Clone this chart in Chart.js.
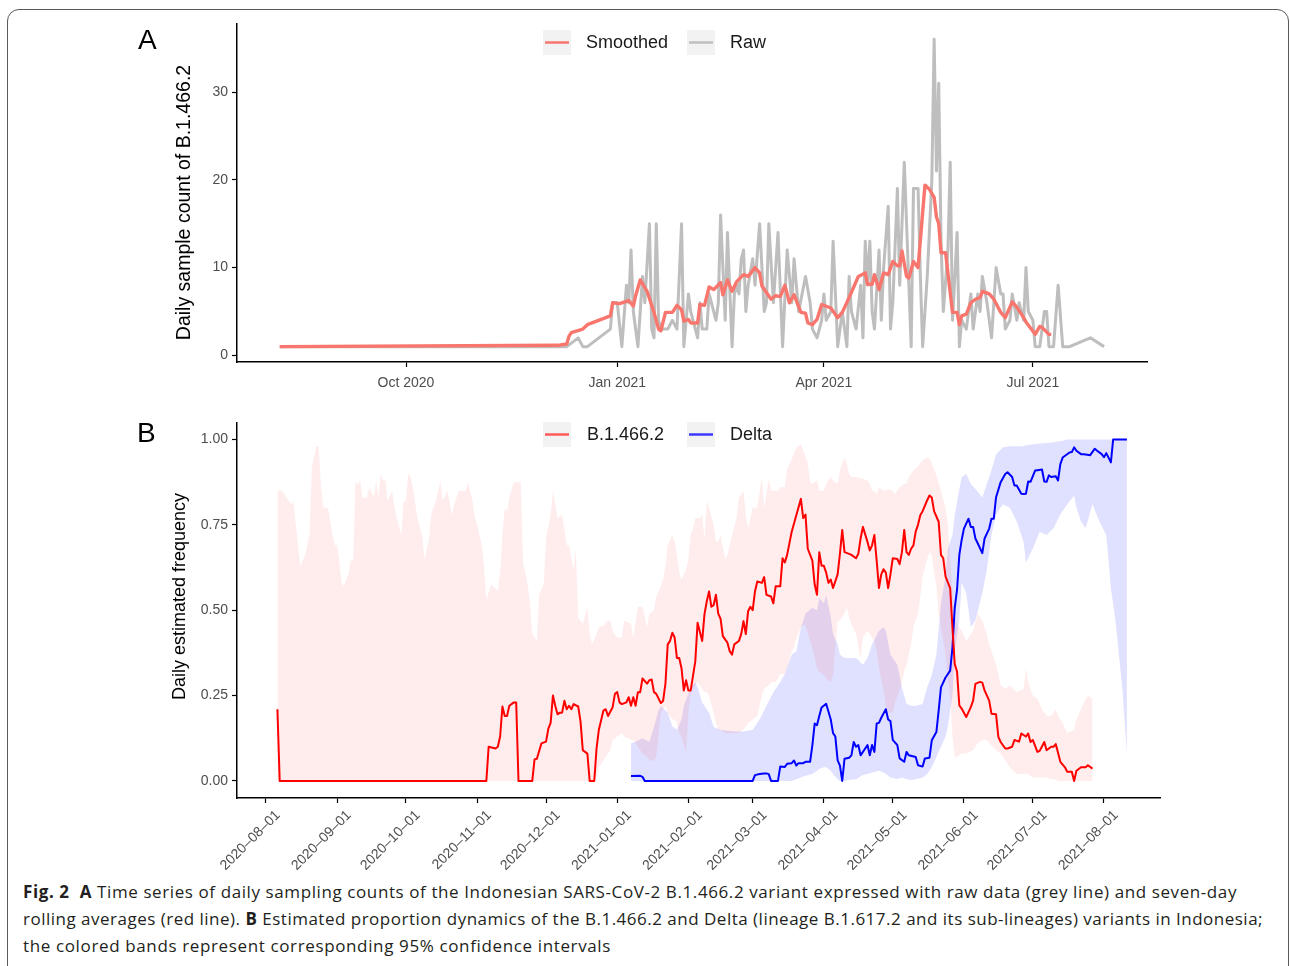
<!DOCTYPE html>
<html><head><meta charset="utf-8">
<script src="https://cdn.jsdelivr.net/npm/chart.js@4/dist/chart.umd.min.js"></script>
<style>
body{margin:0;width:1290px;height:966px;overflow:hidden;background:#fff;position:relative;font-family:"Liberation Sans",Arial,sans-serif;}
#frame{position:absolute;left:7px;top:9px;width:1282px;height:1000px;border:1px solid #58595b;border-radius:12px;box-sizing:border-box;}
canvas{position:absolute;left:0;}
#cA{top:0}
#cB{top:410px}
.panel{position:absolute;font-size:28px;color:#000;line-height:28px;}
.cap{position:absolute;left:23px;font-family:"Open Sans",sans-serif;font-size:17px;line-height:20px;color:#231f20;white-space:nowrap;}
</style></head><body>
<div id="frame"></div>
<canvas id="cA" width="1290" height="410" style="width:1290px;height:410px"></canvas>
<canvas id="cB" width="1290" height="470" style="width:1290px;height:470px"></canvas>
<div class="panel" style="left:138px;top:26px">A</div>
<div class="panel" style="left:137px;top:419px">B</div>
<div class="cap" data-w="1214" style="top:882px"><b>Fig. 2</b>&nbsp; <b>A</b> Time series of daily sampling counts of the Indonesian SARS-CoV-2 B.1.466.2 variant expressed with raw data (grey line) and seven-day</div>
<div class="cap" data-w="1240" style="top:909px">rolling averages (red line). <b>B</b> Estimated proportion dynamics of the B.1.466.2 and Delta (lineage B.1.617.2 and its sub-lineages) variants in Indonesia;</div>
<div class="cap" data-w="588" style="top:936px">the colored bands represent corresponding 95% confidence intervals</div>
<script>
// ---------- DATA (days since 2020-08-01) ----------
const rawDay = [6,126,131,136,138,140,150,151,153,155,157,158,159,160,162,164,165,167,168,169,170,171,172,175,177,179,181,182,184,185,187,188,189,190,192,193,196,197,198,200,201,203,204,205,206,207,208,209,210,212,213,215,217,218,219,221,223,225,227,229,230,232,235,237,238,240,242,243,244,246,247,249,250,251,253,254,255,257,259,260,261,262,263,264,265,267,268,269,271,272,273,275,276,278,280,281,282,284,285,286,288,290,291,292,293,294,295,297,298,299,301,302,303,305,307,308,310,311,312,314,316,318,320,321,322,324,325,327,328,330,331,332,334,335,337,339,340,341,343,345,347,350,359,365];
const rawCount = [1,1,1,2,1,1,3,6,6,1,8,6,12,5,1,9,6,15,3,2,15,4,3,3,4,3,15,1,7,5,3,2,6,3,3,7,4,6,16,4,14,1,7,8,7,11,12,5,8,11,8,15,5,6,15,6,14,1,12,6,11,5,9,6,3,2,4,7,4,5,13,1,3,5,1,9,5,3,8,2,13,8,13,5,3,12,4,10,17,3,6,19,8,22,8,1,19,19,9,1,9,20,36,21,31,13,5,12,22,4,14,1,4,3,7,3,7,5,9,6,2,10,7,7,3,4,7,4,6,4,10,5,4,1,1,5,5,1,1,8,1,1,2,1];
const smoothDay = [6,127,131,132,133,138,140,150,151,154,158,160,161,163,166,169,171,172,174,177,179,181,182,184,185,188,189,191,193,195,198,199,201,203,205,208,210,213,215,216,220,222,224,226,228,230,233,235,236,238,240,242,244,246,249,251,254,258,261,262,264,265,267,269,271,273,275,276,277,279,280,282,284,287,289,291,292,293,294,296,297,299,301,302,303,305,307,309,311,312,315,317,320,322,325,327,330,331,335,337,338,341,342];
const smoothCount = [1.0,1.15,1.3,2.2,2.6,3.0,3.5,4.5,6.0,5.9,6.25,5.6,6.8,8.6,7.3,4.9,3.0,2.8,4.9,4.9,5.7,5.2,3.9,4.1,3.7,3.7,5.8,5.7,7.8,7.5,8.3,6.9,8.6,7.3,8.4,9.2,9.0,10.0,9.4,7.9,6.4,6.8,6.7,8.0,6.0,6.9,4.9,4.8,3.7,3.5,4.1,5.8,5.6,5.4,4.3,4.9,6.6,9.0,9.4,8.1,8.1,9.2,7.5,9.4,9.2,10.7,10.2,10.2,11.9,9.0,8.8,10.7,10.0,19.4,18.9,18.0,15.8,15.0,11.7,11.7,9.4,4.9,4.9,3.5,4.5,4.7,6.0,6.4,6.6,7.3,7.0,6.4,4.9,4.3,6.1,5.5,4.3,3.8,2.4,3.3,3.2,2.4,2.4];

const b146Day = [5,6,96,97,100,101,102,103,104,105,106,108,109,110,116,117,118,120,122,123,124,125,126,127,128,129,130,131,132,133,134,136,137,138,139,140,141,143,144,145,147,148,149,151,152,153,154,155,157,158,159,160,161,162,163,164,166,167,168,169,170,172,173,174,175,176,177,178,179,180,181,182,183,184,185,187,188,190,191,192,193,194,195,196,197,198,199,201,202,203,204,206,207,208,209,210,211,212,213,214,216,217,218,220,221,222,224,225,226,227,229,231,233,234,235,236,238,239,240,241,242,243,244,245,246,247,249,250,251,252,254,255,257,258,259,260,262,263,264,265,266,267,268,269,270,271,272,273,275,276,277,278,279,280,281,282,283,284,285,286,288,289,290,291,293,294,295,296,298,299,300,301,302,303,305,307,308,309,311,312,313,315,316,318,319,320,322,323,325,326,328,329,331,332,333,334,336,337,339,340,342,343,344,346,348,349,351,352,353,355,357,358,360];
const b146Freq = [0.21,0,0,0.10,0.095,0.10,0.13,0.218,0.19,0.19,0.22,0.23,0.23,0,0,0.063,0.065,0.11,0.115,0.153,0.17,0.25,0.22,0.195,0.20,0.20,0.235,0.21,0.22,0.21,0.225,0.218,0.175,0.09,0.085,0.08,0,0,0.095,0.15,0.206,0.21,0.19,0.216,0.255,0.26,0.23,0.225,0.23,0.245,0.22,0.245,0.22,0.26,0.26,0.30,0.285,0.295,0.297,0.26,0.255,0.228,0.235,0.285,0.40,0.41,0.434,0.42,0.36,0.36,0.33,0.265,0.295,0.265,0.265,0.35,0.463,0.41,0.488,0.526,0.555,0.51,0.515,0.545,0.49,0.475,0.424,0.405,0.38,0.37,0.40,0.41,0.43,0.468,0.43,0.497,0.51,0.50,0.555,0.584,0.58,0.597,0.545,0.54,0.52,0.57,0.57,0.652,0.64,0.662,0.73,0.778,0.826,0.77,0.78,0.68,0.645,0.575,0.545,0.67,0.63,0.63,0.61,0.58,0.59,0.565,0.605,0.666,0.735,0.67,0.665,0.662,0.652,0.665,0.71,0.744,0.70,0.675,0.69,0.72,0.645,0.565,0.605,0.62,0.61,0.565,0.605,0.652,0.65,0.635,0.67,0.735,0.67,0.662,0.68,0.69,0.73,0.75,0.778,0.79,0.822,0.836,0.83,0.79,0.759,0.662,0.652,0.598,0.565,0.449,0.342,0.32,0.221,0.212,0.187,0.216,0.235,0.284,0.29,0.288,0.265,0.235,0.197,0.195,0.129,0.114,0.095,0.095,0.10,0.12,0.115,0.139,0.13,0.139,0.114,0.12,0.085,0.088,0.114,0.09,0.10,0.10,0.108,0.056,0.04,0.027,0.027,0.0,0.03,0.04,0.04,0.046,0.036];

const deltaDay = [159,163,164,165,212,213,215,217,218,219,220,223,224,226,227,229,230,231,232,234,235,237,238,239,240,241,242,244,246,247,248,249,250,251,252,254,255,256,257,258,259,261,262,263,264,265,266,267,268,270,271,272,273,275,276,278,279,280,283,284,286,287,289,290,292,293,294,296,298,299,300,301,302,303,304,306,307,308,309,310,312,313,315,316,317,318,320,322,323,325,326,327,329,330,331,332,333,335,336,338,339,340,341,342,344,345,346,347,350,351,352,353,355,356,357,359,361,362,364,365,366,368,369,375];
const deltaFreq = [0.0145,0.015,0.012,0,0,0.017,0.02,0.022,0.022,0.02,0,0,0.042,0.041,0.05,0.052,0.06,0.045,0.052,0.052,0.056,0.056,0.105,0.168,0.163,0.19,0.215,0.226,0.18,0.14,0.13,0.06,0.045,0,0.065,0.068,0.075,0.114,0.1,0.105,0.075,0.095,0.105,0.075,0.105,0.085,0.168,0.17,0.185,0.21,0.18,0.175,0.12,0.105,0.066,0.056,0.085,0.075,0.07,0.046,0.042,0.066,0.068,0.119,0.143,0.206,0.274,0.303,0.323,0.39,0.507,0.56,0.662,0.705,0.739,0.768,0.744,0.744,0.71,0.696,0.667,0.71,0.739,0.768,0.768,0.831,0.875,0.899,0.904,0.89,0.865,0.865,0.841,0.84,0.841,0.877,0.876,0.909,0.91,0.912,0.877,0.876,0.895,0.89,0.892,0.88,0.928,0.947,0.962,0.963,0.977,0.967,0.957,0.957,0.956,0.954,0.973,0.967,0.957,0.948,0.96,0.933,1.0,1.0];

const b146BandDay = [5,7,9,10,11,12,13,15,17,19,20,22,23,24,25,27,29,30,31,32,33,34,36,37,38,39,40,41,42,44,45,47,48,49,50,51,52,53,55,56,57,59,60,61,62,63,64,66,68,69,71,72,74,76,77,79,81,82,84,87,88,90,91,92,94,95,96,98,99,101,102,103,104,105,106,108,109,110,111,112,114,115,116,118,119,121,122,124,125,126,127,129,131,132,134,135,136,138,140,141,142,144,145,147,149,150,151,153,155,156,159,160,162,164,166,167,169,170,172,173,174,175,177,178,179,180,181,183,184,185,186,187,188,189,190,191,192,193,195,196,197,198,200,201,203,205,206,208,209,210,212,214,216,217,219,220,222,223,224,226,227,229,230,231,233,234,235,236,237,238,240,241,243,244,246,247,249,250,252,253,254,255,257,259,260,262,263,264,265,266,267,269,270,271,273,274,276,278,279,280,281,282,284,285,286,288,289,290,292,293,294,296,297,298,299,300,301,303,305,308,310,312,314,315,318,320,322,324,327,330,331,332,334,336,338,340,342,344,345,347,349,352,353,355,357,358,360];
const b146High = [.85,.85,.83,.82,.81,.82,.75,.63,.66,.72,.92,.98,.98,.86,.80,.80,.72,.69,.69,.64,.58,.57,.61,.645,.645,.88,.866,.88,.83,.83,.86,.83,.88,.83,.90,.88,.88,.82,.85,.80,.77,.72,.82,.82,.90,.89,.86,.77,.72,.65,.71,.78,.82,.88,.82,.85,.78,.81,.85,.85,.875,.82,.77,.75,.69,.63,.53,.575,.57,.555,.61,.72,.80,.79,.83,.875,.875,.875,.875,.64,.575,.52,.43,.41,.545,.575,.71,.78,.85,.81,.77,.78,.69,.69,.62,.68,.478,.46,.51,.43,.40,.43,.45,.455,.47,.47,.44,.42,.42,.47,.46,.42,.51,.51,.45,.49,.50,.54,.57,.59,.63,.69,.72,.70,.66,.61,.59,.62,.65,.72,.74,.77,.77,.77,.78,.71,.82,.80,.75,.70,.70,.72,.65,.66,.72,.77,.83,.85,.78,.74,.80,.80,.89,.80,.885,.85,.85,.85,.86,.86,.914,.942,.96,.977,.986,.966,.95,.93,.875,.87,.88,.85,.85,.87,.89,.88,.87,.91,.948,.93,.90,.89,.89,.885,.885,.88,.87,.85,.85,.84,.86,.85,.85,.855,.85,.84,.86,.87,.87,.89,.90,.91,.92,.93,.94,.948,.945,.93,.895,.87,.85,.80,.75,.65,.56,.48,.46,.44,.41,.44,.49,.47,.43,.40,.34,.28,.27,.28,.26,.27,.33,.29,.25,.24,.21,.19,.19,.21,.19,.17,.14,.15,.18,.21,.24,.25,.24];
const b146Low = [0,0,0,0,0,0,0,0,0,0,0,0,0,0,0,0,0,0,0,0,0,0,0,0,0,0,0,0,0,0,0,0,0,0,0,0,0,0,0,0,0,0,0,0,0,0,0,0,0,0,0,0,0,0,0,0,0,0,0,0,0,0,0,0,0,0,0,0,0,0,0,0,0,0,0,0,0,0,0,0,0,0,0,0,0,0,0,0,0,0,0,0,0,0,0,0,0,0,0,0,0,.01,.04,.06,.08,.09,.12,.13,.14,.13,.12,.12,.10,.08,.07,.06,.06,.07,.20,.21,.22,.20,.18,.18,.17,.14,.13,.08,.20,.26,.27,.28,.29,.28,.27,.26,.26,.25,.20,.17,.15,.15,.14,.14,.14,.14,.14,.15,.16,.17,.18,.19,.25,.27,.28,.29,.29,.30,.313,.313,.33,.38,.39,.42,.45,.455,.458,.43,.41,.39,.33,.32,.31,.30,.29,.31,.468,.47,.49,.507,.48,.458,.43,.36,.42,.44,.43,.42,.41,.38,.33,.265,.22,.20,.20,.23,.265,.32,.34,.37,.40,.45,.49,.54,.60,.65,.67,.66,.57,.49,.45,.37,.30,.245,.13,.07,.07,.08,.08,.09,.11,.12,.12,.11,.09,.08,.06,.04,.02,.02,.02,.02,.01,.01,.01,.01,.005,.005,0,0,0,0,0,0,0,0,0];

const deltaBandDay = [159,161,164,167,169,171,172,175,177,179,181,182,185,187,188,190,193,195,198,201,204,208,212,215,218,221,224,226,229,231,233,235,238,240,241,243,244,246,247,249,250,252,254,257,260,262,264,267,269,270,272,275,277,279,281,283,286,288,290,292,294,296,297,299,300,302,303,305,307,309,312,314,316,318,321,324,327,330,331,334,337,340,343,346,349,352,353,355,357,360,363,366,368,370,373,375];
const deltaHigh = [.11,.115,.125,.115,.158,.206,.22,.20,.16,.15,.18,.22,.274,.29,.274,.23,.20,.158,.15,.147,.145,.145,.15,.18,.22,.26,.29,.313,.37,.38,.449,.49,.507,.50,.536,.52,.545,.48,.43,.40,.37,.36,.36,.36,.34,.36,.40,.44,.45,.44,.37,.34,.274,.226,.22,.22,.225,.274,.31,.37,.52,.60,.68,.72,.778,.855,.889,.899,.87,.855,.83,.87,.91,.957,.977,.98,.98,.98,.983,.986,.988,.99,.992,.995,1,1,1,1,1,1,1,1,1,1,1,1];
const deltaLow = [0,0,0,0,0,0,0,0,0,0,0,0,0,0,0,0,0,0,0,0,0,0,0,0,0,0,0,0,0,.005,.01,.015,.02,.03,.035,.04,.04,.03,.02,.005,0,0,.003,.005,.017,.02,.025,.03,.025,.02,.01,.006,.01,.005,.003,.005,.01,.02,.04,.07,.10,.13,.16,.25,.38,.47,.58,.55,.45,.47,.55,.62,.72,.78,.81,.80,.76,.70,.64,.68,.73,.72,.74,.78,.81,.835,.80,.76,.74,.81,.76,.72,.565,.47,.27,.08];

const aTickDays = [61,153,243,334];
const aTickLabels = ['Oct 2020','Jan 2021','Apr 2021','Jul 2021'];
const aYTicks = [0,10,20,30];
const bTickDays = [0,31,61,92,122,153,184,212,243,273,304,334,365];
const bTickLabels = ['2020–08–01','2020–09–01','2020–10–01','2020–11–01','2020–12–01','2021–01–01','2021–02–01','2021–03–01','2021–04–01','2021–05–01','2021–06–01','2021–07–01','2021–08–01'];
const bYTicks = [0,0.25,0.5,0.75,1];

// ---------- helpers ----------
const pts = (xs, ys) => xs.map((x, i) => ({x, y: ys[i]}));
const FONT = '"Liberation Sans", Arial, sans-serif';
function xScale(min, max, tickDays, tickLabels, height, rot, pad, lblOff) {
  return {
    type: 'linear', min, max,
    afterBuildTicks: s => { s.ticks = tickDays.map(v => ({value: v})); },
    afterFit: s => { s.height = height; },
    ticks: { autoSkip: false, maxRotation: rot, minRotation: rot, padding: pad, labelOffset: lblOff, color: '#4d4d4d',
      font: {family: FONT, size: 14}, callback: (v, i) => tickLabels[i] },
    grid: { drawOnChartArea: false, drawTicks: true, tickLength: 5, color: '#000', tickWidth: 1.2 },
    border: { display: true, color: '#000', width: 1.5 }
  };
}
function yScale(min, max, tickVals, fmt) {
  return {
    type: 'linear', min, max,
    afterBuildTicks: s => { s.ticks = tickVals.map(v => ({value: v})); },
    afterFit: s => { s.width = 107; },
    ticks: { padding: 4, color: '#4d4d4d', font: {family: FONT, size: 14}, callback: v => fmt(v) },
    grid: { drawOnChartArea: false, drawTicks: true, tickLength: 5, color: '#000', tickWidth: 1.2 },
    border: { display: true, color: '#000', width: 1.5 }
  };
}
function decorPlugin(items, offY, yTitle) {
  return { id: 'ggDecor', afterDraw(chart) {
    const ctx = chart.ctx; ctx.save();
    items.forEach(it => {
      ctx.fillStyle = '#f2f2f2'; ctx.fillRect(it.bx, it.by - offY, 28, 25);
      ctx.strokeStyle = it.color; ctx.lineWidth = it.lw; ctx.beginPath();
      ctx.moveTo(it.bx + 2, it.by + 12.5 - offY); ctx.lineTo(it.bx + 26, it.by + 12.5 - offY); ctx.stroke();
      ctx.fillStyle = '#1a1a1a'; ctx.font = '18px ' + FONT; ctx.textBaseline = 'middle'; ctx.textAlign = 'left';
      ctx.fillText(it.label, it.tx, it.by + 13 - offY);
    });
    ctx.translate(yTitle.cx, yTitle.cy - offY); ctx.rotate(-Math.PI / 2);
    ctx.font = yTitle.size + 'px ' + FONT; ctx.fillStyle = '#000'; ctx.textAlign = 'center'; ctx.textBaseline = 'middle';
    ctx.fillText(yTitle.text, 0, 0);
    ctx.restore();
  }};
}
const common = { responsive: false, animation: false, events: [],
  plugins: { legend: {display: false}, tooltip: {enabled: false} },
  elements: { point: {radius: 0}, line: {tension: 0, borderJoinStyle: 'round', borderCapStyle: 'butt'} } };

// ---------- Chart A ----------
new Chart(document.getElementById('cA'), {
  type: 'line',
  data: { datasets: [
    { label: 'Smoothed', data: pts(smoothDay, smoothCount), borderColor: '#F8766D', borderWidth: 3.4, fill: false },
    { label: 'Raw', data: pts(rawDay, rawCount), borderColor: '#BEBEBE', borderWidth: 3, fill: false }
  ]},
  options: Object.assign({}, common, {
    layout: { padding: {left: 130, top: 24, right: 143, bottom: 0} },
    scales: {
      x: xScale(-12.6, 383.7, aTickDays, aTickLabels, 48, 0, 8, 0),
      y: yScale(-0.75, 37.75, aYTicks, v => String(v))
    }
  }),
  plugins: [decorPlugin([
    {bx: 543, by: 30, color: '#F8766D', lw: 2.5, label: 'Smoothed', tx: 586},
    {bx: 687, by: 30, color: '#BEBEBE', lw: 2.5, label: 'Raw', tx: 730}
  ], 0, {text: 'Daily sample count of B.1.466.2', cx: 184.5, cy: 202.5, size: 19.5})]
});

// ---------- Chart B ----------
new Chart(document.getElementById('cB'), {
  type: 'line',
  data: { datasets: [
    { label: 'B.1.466.2', data: pts(b146Day, b146Freq), borderColor: '#FF0000', borderWidth: 2, fill: false },
    { label: 'Delta', data: pts(deltaDay, deltaFreq), borderColor: '#0000FF', borderWidth: 2, fill: false },
    { label: 'B.1.466.2 low', data: pts(b146BandDay, b146Low), borderWidth: 0, borderColor: 'rgba(0,0,0,0)', fill: false },
    { label: 'B.1.466.2 high', data: pts(b146BandDay, b146High), borderWidth: 0, borderColor: 'rgba(0,0,0,0)', fill: 2, backgroundColor: 'rgba(255,0,0,0.075)' },
    { label: 'Delta low', data: pts(deltaBandDay, deltaLow), borderWidth: 0, borderColor: 'rgba(0,0,0,0)', fill: false },
    { label: 'Delta high', data: pts(deltaBandDay, deltaHigh), borderWidth: 0, borderColor: 'rgba(0,0,0,0)', fill: 4, backgroundColor: 'rgba(0,0,255,0.12)' }
  ]},
  options: Object.assign({}, common, {
    layout: { padding: {left: 130, top: 10, right: 130, bottom: 0} },
    scales: {
      x: xScale(-12.6, 389.4, bTickDays, bTickLabels, 82, 45, 4, 12),
      y: yScale(-0.05, 1.05, bYTicks, v => v.toFixed(2))
    }
  }),
  plugins: [decorPlugin([
    {bx: 543, by: 422, color: '#FF5A5A', lw: 2.5, label: 'B.1.466.2', tx: 587},
    {bx: 687, by: 422, color: '#3a3aff', lw: 2.5, label: 'Delta', tx: 730}
  ], 410, {text: 'Daily estimated frequency', cx: 180.5, cy: 596.5, size: 18})]
});

// caption width fitting via letter-spacing
document.querySelectorAll('.cap').forEach(el => {
  const target = +el.dataset.w;
  const w = el.getBoundingClientRect().width;
  const n = el.textContent.length;
  el.style.letterSpacing = ((target - w) / n).toFixed(3) + 'px';
});
</script>
</body></html>
